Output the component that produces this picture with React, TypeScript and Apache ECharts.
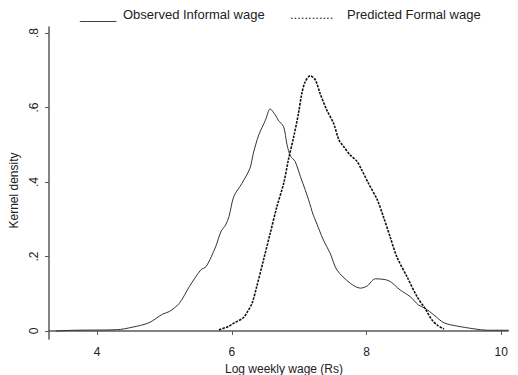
import React, { useEffect, useRef } from "react";
import * as echarts from "echarts";

// Observed informal wage kernel density (solid)
const informalX = [3.39, 3.66, 4.30, 4.52, 4.77, 4.97, 5.07, 5.22, 5.37, 5.54, 5.62, 5.76, 5.84, 5.91, 5.96, 6.03, 6.15, 6.27, 6.32, 6.40, 6.50, 6.57, 6.645, 6.69, 6.77, 6.82, 6.87, 6.94, 7.02, 7.09, 7.14, 7.21, 7.24, 7.36, 7.46, 7.56, 7.76, 7.91, 8.01, 8.13, 8.33, 8.50, 8.65, 8.77, 8.87, 9.00, 9.15, 9.35, 9.59, 9.79, 10.15];
const informalY = [0.000, 0.002, 0.0035, 0.010, 0.022, 0.045, 0.052, 0.074, 0.119, 0.164, 0.173, 0.226, 0.267, 0.285, 0.308, 0.361, 0.396, 0.437, 0.477, 0.526, 0.566, 0.596, 0.580, 0.566, 0.548, 0.500, 0.470, 0.455, 0.414, 0.379, 0.352, 0.311, 0.298, 0.244, 0.209, 0.164, 0.128, 0.115, 0.121, 0.140, 0.135, 0.110, 0.092, 0.070, 0.061, 0.043, 0.022, 0.013, 0.006, 0.002, 0.002];

// Predicted formal wage kernel density (dashed)
const formalX = [5.81, 5.96, 6.03, 6.17, 6.22, 6.30, 6.37, 6.47, 6.57, 6.67, 6.77, 6.84, 6.92, 6.99, 7.04, 7.09, 7.165, 7.24, 7.31, 7.41, 7.51, 7.59, 7.66, 7.76, 7.86, 7.93, 8.03, 8.16, 8.25, 8.35, 8.45, 8.60, 8.75, 8.87, 8.97, 9.05, 9.15];
const formalY = [0.003, 0.013, 0.021, 0.035, 0.048, 0.074, 0.119, 0.190, 0.262, 0.334, 0.396, 0.459, 0.522, 0.584, 0.638, 0.669, 0.685, 0.674, 0.638, 0.593, 0.558, 0.513, 0.495, 0.472, 0.455, 0.432, 0.396, 0.352, 0.307, 0.253, 0.199, 0.146, 0.092, 0.060, 0.030, 0.016, 0.005];

const xTicks = [4, 6, 8, 10];
const yTicks = [0, 0.2, 0.4, 0.6, 0.8];
const yTickLabels = ["0", ".2", ".4", ".6", ".8"];

const FONT = "'Liberation Sans', Arial, sans-serif";

export default function App() {
  const ref = useRef<HTMLDivElement>(null);
  useEffect(() => {
    if (!ref.current) return;
    const chart = echarts.init(ref.current, undefined, { renderer: "svg" });
    const axisLine = { show: true, lineStyle: { color: "#5a5a5a", width: 1.5 } };
    chart.setOption({
      animation: false,
      backgroundColor: "#ffffff",
      grid: { left: 49, right: 10, top: 27, bottom: 36, outerBoundsMode: "none", containLabel: false },
      xAxis: {
        type: "value",
        min: 3.287,
        max: 10.1,
        axisLine,
        splitLine: { show: false },
        axisTick: { show: true, length: 4, customValues: xTicks, lineStyle: { color: "#5a5a5a" } },
        axisLabel: {
          customValues: xTicks,
          margin: 7,
          color: "#222",
          fontSize: 12,
          fontFamily: FONT,
        },
        name: "Log weekly wage (Rs)",
        nameLocation: "middle",
        nameGap: 19,
        nameTextStyle: { color: "#222", fontSize: 12, fontFamily: FONT, padding: [0, 0, 0, 11] },
      },
      yAxis: {
        type: "value",
        min: -0.0215,
        max: 0.816,
        axisLine,
        splitLine: { show: false },
        axisTick: { show: true, length: 4, customValues: yTicks, lineStyle: { color: "#5a5a5a" } },
        axisLabel: {
          customValues: yTicks,
          rotate: 90,
          margin: 9,
          color: "#222",
          fontSize: 12,
          fontFamily: FONT,
          formatter: (v: number) => {
            const i = yTicks.findIndex((t) => Math.abs(t - v) < 1e-6);
            return i >= 0 ? yTickLabels[i] : "";
          },
        },
        name: "Kernel density",
        nameLocation: "middle",
        nameGap: 21,
        nameRotate: 90,
        nameTextStyle: { color: "#222", fontSize: 12, fontFamily: FONT, padding: [0, 15, 0, 0] },
      },
      graphic: [
        { type: "text", left: 80, top: 8, style: { text: "_____", fontSize: 13, fontFamily: FONT, fill: "#222" } },
        { type: "text", left: 123, top: 8, style: { text: "Observed Informal wage", fontSize: 13, fontFamily: FONT, fill: "#222" } },
        { type: "text", left: 290, top: 8, style: { text: "............", fontSize: 13, fontFamily: FONT, fill: "#222" } },
        { type: "text", left: 347, top: 8, style: { text: "Predicted Formal wage", fontSize: 13, fontFamily: FONT, fill: "#222" } },
      ],
      series: [
        {
          name: "Observed Informal wage",
          type: "line",
          showSymbol: false,
          smooth: 0.3,
          clip: false,
          data: informalX.map((x, i) => [x, informalY[i]]),
          lineStyle: { color: "#333", width: 1, type: "solid" },
        },
        {
          name: "Predicted Formal wage",
          type: "line",
          showSymbol: false,
          smooth: 0.3,
          clip: false,
          data: formalX.map((x, i) => [x, formalY[i]]),
          lineStyle: { color: "#111", width: 1.6, type: [2.5, 1.2] },
        },
      ],
    });
    return () => chart.dispose();
  }, []);
  return (
    <div
      ref={ref}
      style={{ position: "fixed", left: 0, top: 0, width: 518, height: 375 }}
    />
  );
}
